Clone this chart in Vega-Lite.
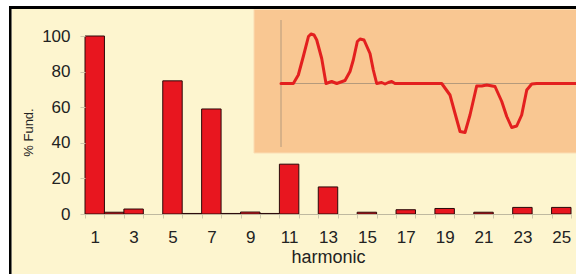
{
  "$schema": "https://vega.github.io/schema/vega-lite/v6.json",
  "autosize": {"type": "none"},
  "width": 486,
  "height": 178,
  "padding": {"left": 85, "top": 36, "right": 5, "bottom": 60},
  "background": "#ffffff",
  "config": {
    "view": {"stroke": null},
    "font": "Liberation Sans",
    "axis": {"grid": false, "labelColor": "#222222", "titleColor": "#222222", "labelFont": "Liberation Sans", "titleFont": "Liberation Sans", "titleFontWeight": "normal"}
  },
  "resolve": {"scale": {"x": "independent", "y": "independent"}, "axis": {"x": "independent", "y": "independent"}},
  "layer": [
    {
      "data": {"values": [{}]},
      "layer": [
        {
          "mark": {"type": "rect", "color": "#FDF5CF"},
          "encoding": {
            "x": {"datum": -319.1, "type": "quantitative", "scale": {"domain": [-232.1, 343.4], "nice": false, "zero": false}, "axis": null},
            "x2": {"datum": 420},
            "y": {"datum": 1.49, "type": "quantitative", "scale": {"domain": [-2.61, 0.95], "nice": false, "zero": false}, "axis": null},
            "y2": {"datum": -5}
          }
        },
        {
          "mark": {"type": "rect", "color": "#000000"},
          "encoding": {
            "x": {"datum": -322.1, "type": "quantitative", "axis": null},
            "x2": {"datum": 420},
            "y": {"datum": 1.55, "type": "quantitative", "axis": null},
            "y2": {"datum": 1.49}
          }
        },
        {
          "mark": {"type": "rect", "color": "#000000"},
          "encoding": {
            "x": {"datum": -322.1, "type": "quantitative", "axis": null},
            "x2": {"datum": -319.1},
            "y": {"datum": 1.55, "type": "quantitative", "axis": null},
            "y2": {"datum": -5}
          }
        },
        {
          "mark": {"type": "rect", "color": "#F9C792", "stroke": "#FBDDB4", "strokeWidth": 1},
          "encoding": {
            "x": {"datum": -32, "type": "quantitative", "axis": null},
            "x2": {"datum": 420},
            "y": {"datum": 1.48, "type": "quantitative", "axis": null},
            "y2": {"datum": -1.39}
          }
        },
        {
          "mark": {"type": "rule", "color": "#B59A7C", "strokeWidth": 1},
          "encoding": {
            "x": {"datum": 0, "type": "quantitative", "axis": null},
            "y": {"datum": 1.27, "type": "quantitative", "axis": null},
            "y2": {"datum": -1.27}
          }
        },
        {
          "mark": {"type": "rule", "color": "#B59A7C", "strokeWidth": 1},
          "encoding": {
            "x": {"datum": 0, "type": "quantitative", "axis": null},
            "x2": {"datum": 420},
            "y": {"datum": 0, "type": "quantitative", "axis": null}
          }
        },
        {
          "data": {"values": [
            {"theta": 0, "i": 0}, {"theta": 14.6, "i": 0}, {"theta": 20.5, "i": 0.17}, {"theta": 26.4, "i": 0.54},
            {"theta": 32.5, "i": 0.94}, {"theta": 35.5, "i": 0.99}, {"theta": 39.1, "i": 0.97}, {"theta": 42.3, "i": 0.87}, {"theta": 48.2, "i": 0.5},
            {"theta": 53.3, "i": 0.0}, {"theta": 60.0, "i": 0.04}, {"theta": 66.0, "i": 0.0}, {"theta": 75.8, "i": 0.06},
            {"theta": 81.7, "i": 0.24}, {"theta": 85.6, "i": 0.47}, {"theta": 90.4, "i": 0.84}, {"theta": 93.6, "i": 0.89},
            {"theta": 98.3, "i": 0.87}, {"theta": 105.4, "i": 0.6}, {"theta": 109.3, "i": 0.27}, {"theta": 113.3, "i": 0.0},
            {"theta": 119.2, "i": 0.02}, {"theta": 123.2, "i": -0.01}, {"theta": 127.1, "i": 0.02}, {"theta": 131.1, "i": 0.04},
            {"theta": 135.0, "i": 0.0}, {"theta": 190.3, "i": 0.0}, {"theta": 200.1, "i": -0.23}, {"theta": 206.1, "i": -0.6},
            {"theta": 212.0, "i": -0.96}, {"theta": 217.9, "i": -0.98}, {"theta": 223.8, "i": -0.63}, {"theta": 231.7, "i": -0.05},
            {"theta": 237.7, "i": -0.05}, {"theta": 243.6, "i": -0.03}, {"theta": 253.4, "i": -0.06}, {"theta": 261.4, "i": -0.36},
            {"theta": 267.3, "i": -0.66}, {"theta": 273.2, "i": -0.88}, {"theta": 279.1, "i": -0.85}, {"theta": 285.0, "i": -0.63},
            {"theta": 291.0, "i": -0.13}, {"theta": 296.9, "i": -0.01}, {"theta": 302.8, "i": 0.0}, {"theta": 360, "i": 0.0}
          ]},
          "mark": {"type": "line", "color": "#E3201F", "strokeWidth": 3, "strokeJoin": "round", "strokeCap": "round"},
          "encoding": {
            "x": {"field": "theta", "type": "quantitative", "axis": null},
            "y": {"field": "i", "type": "quantitative", "axis": null}
          }
        }
      ]
    },
    {
      "data": {"values": [
        {"h": 1, "pct": 100}, {"h": 2, "pct": 1}, {"h": 3, "pct": 2.8}, {"h": 5, "pct": 74.8},
        {"h": 6, "pct": 0.3}, {"h": 7, "pct": 59}, {"h": 8, "pct": 0.3}, {"h": 9, "pct": 1.1},
        {"h": 10, "pct": 0.3}, {"h": 11, "pct": 28}, {"h": 13, "pct": 15.2}, {"h": 15, "pct": 1},
        {"h": 17, "pct": 2.4}, {"h": 19, "pct": 3.1}, {"h": 21, "pct": 1}, {"h": 23, "pct": 3.7},
        {"h": 25, "pct": 3.7}
      ]},
      "mark": {"type": "bar", "color": "#E8161F", "stroke": "#2a0a0a", "strokeWidth": 1},
      "encoding": {
        "x": {
          "field": "h", "type": "ordinal",
          "scale": {"domain": [1,2,3,4,5,6,7,8,9,10,11,12,13,14,15,16,17,18,19,20,21,22,23,24,25], "paddingInner": 0, "paddingOuter": 0},
          "axis": {
            "orient": "bottom", "title": "harmonic", "labelAngle": 0, "zindex": 1,
            "labelExpr": "datum.value % 2 === 1 ? datum.label : ''",
            "tickBand": "extent", "tickSize": 4, "tickColor": "#cfc9ad",
            "domainColor": "#bfb9a0", "domainWidth": 1,
            "labelFontSize": 17, "labelPadding": 11,
            "titleFontSize": 18, "titlePadding": 3
          }
        },
        "y": {
          "field": "pct", "type": "quantitative",
          "scale": {"domain": [0, 100], "nice": false},
          "axis": {
            "orient": "left", "title": "% Fund.", "values": [0, 20, 40, 60, 80, 100], "zindex": 1,
            "domain": false, "tickSize": 5, "tickColor": "#cfc9ad",
            "labelFontSize": 17, "labelPadding": 10,
            "titleFontSize": 13, "titlePadding": 6, "titleY": 96
          }
        }
      }
    }
  ]
}
